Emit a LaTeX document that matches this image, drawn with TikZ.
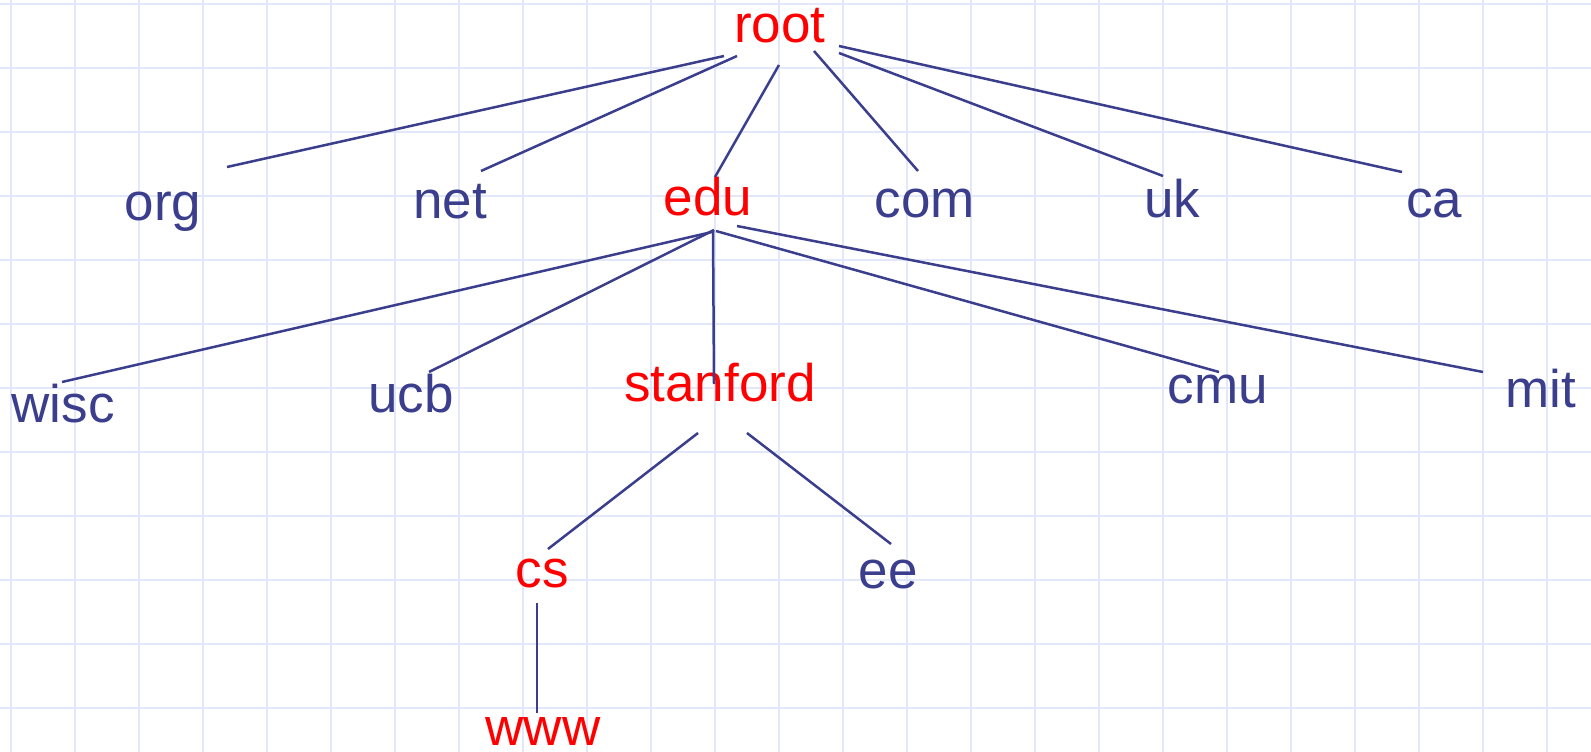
\documentclass[tikz,border=0pt]{standalone}
\usepackage{fontspec}
\setmainfont{Liberation Sans}
\definecolor{gridc}{RGB}{226,231,250}
\definecolor{navy}{RGB}{58,62,140}
\definecolor{hot}{RGB}{255,0,0}
\begin{document}
\begin{tikzpicture}[x=1pt,y=-1pt,
  lbl/.style={anchor=base,inner sep=0pt,font=\fontsize{53}{58}\selectfont},
  plain/.style={lbl,text=navy},
  hilite/.style={lbl,text=hot},
  edge/.style={draw=navy,line width=2.5pt}]
\useasboundingbox (0,0) rectangle (1591,752);
\fill[white] (0,0) rectangle (1591,752);
\foreach \k in {0,...,24} \draw[gridc,line width=2.2pt] (11+64*\k,0) -- (11+64*\k,752);
\foreach \k in {0,...,11} \draw[gridc,line width=2.2pt] (0,3.7+64*\k) -- (1591,3.7+64*\k);
% nodes
\node[hilite] (root) at (780,43) {root};
\node[plain] (org) at (163,220) {org};
\node[plain] (net) at (450,218) {net};
\node[hilite] (edu) at (708,215) {edu};
\node[plain] (com) at (925,217) {com};
\node[plain] (uk) at (1172,217) {uk};
\node[plain] (ca) at (1434,217) {ca};
\node[plain] (wisc) at (63,422) {wisc};
\node[plain] (ucb) at (411,412) {ucb};
\node[hilite] (stanford) at (720,401) {stanford};
\node[plain] (cmu) at (1218,403) {cmu};
\node[plain] (mit) at (1541,407) {mit};
\node[hilite] (cs) at (542,587) {cs};
\node[plain] (ee) at (888,588) {ee};
\node[hilite] (www) at (543,745) {www};
% connectors
\draw[edge] ([shift={(-56,13)}]root.base) -- ([shift={(64,-53)}]org.base);
\draw[edge] ([shift={(-43,13)}]root.base) -- ([shift={(31,-47)}]net.base);
\draw[edge] ([shift={(-1,22)}]root.base) -- ([shift={(7,-38)}]edu.base);
\draw[edge] ([shift={(34,8)}]root.base) -- ([shift={(-7,-46)}]com.base);
\draw[edge] ([shift={(59,10)}]root.base) -- ([shift={(-9,-41)}]uk.base);
\draw[edge] ([shift={(59,3)}]root.base) -- ([shift={(-32,-45)}]ca.base);
\draw[edge] ([shift={(4,17)}]edu.base) -- ([shift={(-1,-40)}]wisc.base);
\draw[edge] ([shift={(6,15)}]edu.base) -- ([shift={(18,-40)}]ucb.base);
\draw[edge] ([shift={(5,15)}]edu.base) -- ([shift={(-6,-17)}]stanford.base);
\draw[edge] ([shift={(8,16)}]edu.base) -- ([shift={(1,-31)}]cmu.base);
\draw[edge] ([shift={(29,11)}]edu.base) -- ([shift={(-58,-35)}]mit.base);
\draw[edge] ([shift={(-22,32)}]stanford.base) -- ([shift={(6,-38)}]cs.base);
\draw[edge] ([shift={(27,32)}]stanford.base) -- ([shift={(3,-44)}]ee.base);
\draw[edge] ([shift={(-5,16)}]cs.base) -- ([shift={(-6,-32)}]www.base);
\end{tikzpicture}
\end{document}
